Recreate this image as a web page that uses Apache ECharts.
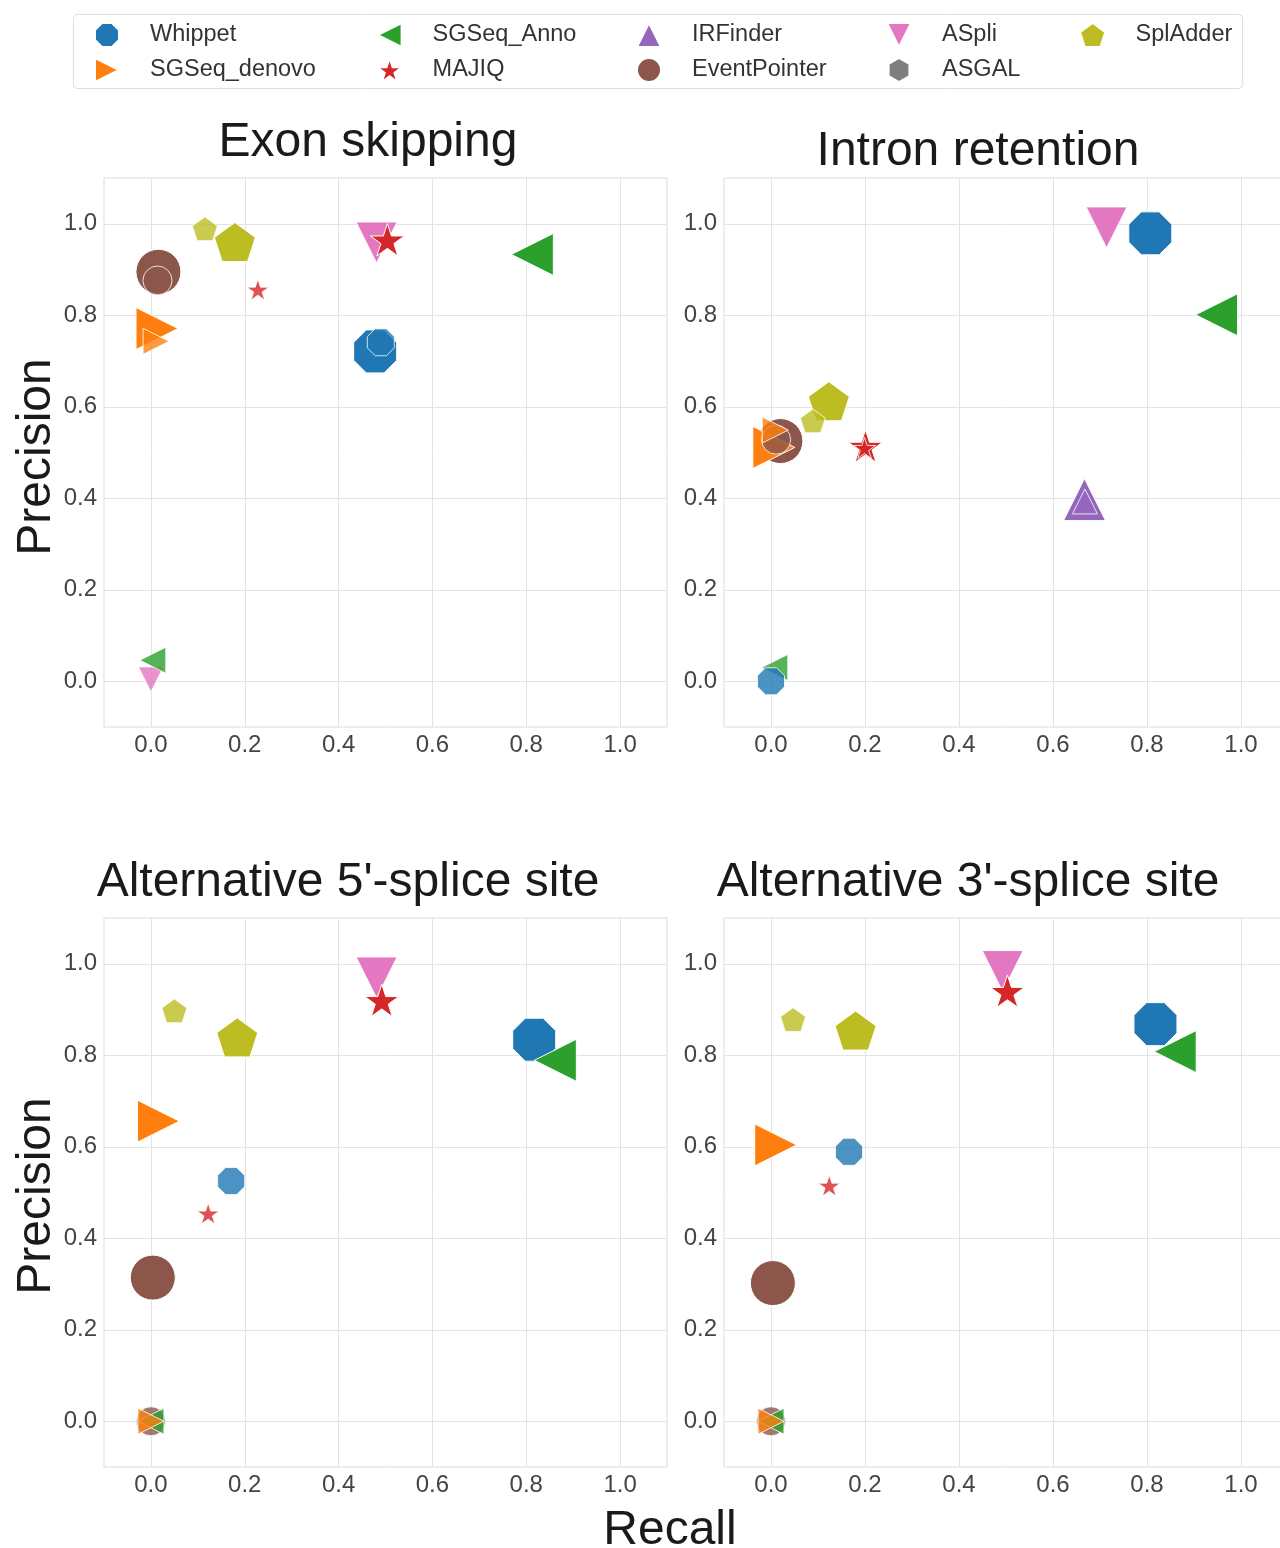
<!DOCTYPE html>
<html><head><meta charset="utf-8">
<script src="https://cdn.jsdelivr.net/npm/echarts@6/dist/echarts.min.js"></script>
<style>html,body{margin:0;padding:0;background:#fff}#c{width:1280px;height:1548px}</style>
</head><body><div id="c"></div>
<script>
// ---------- data ----------
const methods = ['Whippet','SGSeq_denovo','SGSeq_Anno','MAJIQ','IRFinder','EventPointer','ASpli','ASGAL','SplAdder'];
const panelTitles = ['Exon skipping','Intron retention',"Alternative 5'-splice site","Alternative 3'-splice site"];
const xAxisName = 'Recall';
const yAxisName = 'Precision';

// Exon skipping
const esRecallLarge = [0.478, 0.013, 0.813, 0.504, null, 0.016, 0.481, null, 0.179];
const esPrecLarge   = [0.721, 0.771, 0.933, 0.965, null, 0.895, 0.959, null, 0.960];
const esRecallSmall = [0.490, 0.011, 0.004, 0.228, null, 0.014, 0.000, null, 0.115];
const esPrecSmall   = [0.741, 0.743, 0.046, 0.856, null, 0.876, 0.004, null, 0.989];
// Intron retention
const irRecallLarge = [0.807, 0.006, 0.948, 0.201, 0.667, 0.020, 0.714, null, 0.123];
const irPrecLarge   = [0.979, 0.511, 0.801, 0.514, 0.397, 0.525, 0.992, null, 0.612];
const irRecallSmall = [0.000, 0.009, 0.008, 0.199, 0.668, 0.011, null, null, 0.089];
const irPrecSmall   = [0.000, 0.549, 0.030, 0.510, 0.393, 0.528, null, null, 0.569];
// Alternative 5'
const a5RecallLarge = [0.817, 0.016, 0.862, 0.492, null, 0.004, 0.481, null, 0.184];
const a5PrecLarge   = [0.834, 0.656, 0.789, 0.920, null, 0.314, 0.970, null, 0.839];
const a5RecallSmall = [0.171, 0.000, 0.000, 0.122, null, 0.000, null, null, 0.050];
const a5PrecSmall   = [0.525, 0.000, 0.000, 0.454, null, 0.000, null, null, 0.897];
// Alternative 3'
const a3RecallLarge = [0.818, 0.010, 0.860, 0.503, null, 0.004, 0.493, null, 0.180];
const a3PrecLarge   = [0.868, 0.604, 0.808, 0.940, null, 0.302, 0.984, null, 0.854];
const a3RecallSmall = [0.166, 0.000, 0.000, 0.124, null, 0.000, null, null, 0.047];
const a3PrecSmall   = [0.589, 0.000, 0.000, 0.515, null, 0.000, null, null, 0.878];

// ---------- style ----------
const colors = ['#1f77b4','#ff7f0e','#2ca02c','#d62728','#9467bd','#8c564b','#e377c2','#7f7f7f','#bcbd22'];
const FONT = "'Liberation Sans', Arial, sans-serif";
const octagon = 'path://M0.924,0.383 L0.383,0.924 L-0.383,0.924 L-0.924,0.383 L-0.924,-0.383 L-0.383,-0.924 L0.383,-0.924 L0.924,-0.383 Z';
const triRight = 'path://M1,0 L-1,1 L-1,-1 Z';
const triLeft = 'path://M-1,0 L1,-1 L1,1 Z';
const triUp = 'path://M0,-1 L1,1 L-1,1 Z';
const triDown = 'path://M0,1 L-1,-1 L1,-1 Z';
const star = 'path://M0,-1 L0.2245,-0.309 L0.951,-0.309 L0.3633,0.118 L0.588,0.809 L0,0.382 L-0.588,0.809 L-0.3633,0.118 L-0.951,-0.309 L-0.2245,-0.309 Z';
const circle = 'path://M0,-1 A1,1 0 1 1 0,1 A1,1 0 1 1 0,-1 Z';
const hexagon = 'path://M0,-1 L0.866,-0.5 L0.866,0.5 L0,1 L-0.866,0.5 L-0.866,-0.5 Z';
const pentagon = 'path://M0,-1 L0.951,-0.309 L0.588,0.809 L-0.588,0.809 L-0.951,-0.309 Z';
const symbols = [octagon, triRight, triLeft, star, triUp, circle, triDown, hexagon, pentagon];
const largeSize = [43, 42, 42, 34, 42, 45, 41, 42, 41];
const smallSize = [27, 26, 26, 22, 25, 29, 25, 26, 25];
const largeOrder = [6, 7, 4, 5, 1, 0, 2, 3, 8];
const smallOrder = [6, 5, 2, 0, 1, 3, 4, 8, 7];

const panels = [
  {lr: esRecallLarge, lp: esPrecLarge, sr: esRecallSmall, sp: esPrecSmall},
  {lr: irRecallLarge, lp: irPrecLarge, sr: irRecallSmall, sp: irPrecSmall},
  {lr: a5RecallLarge, lp: a5PrecLarge, sr: a5RecallSmall, sp: a5PrecSmall},
  {lr: a3RecallLarge, lp: a3PrecLarge, sr: a3RecallSmall, sp: a3PrecSmall}
];
const gridPos = [
  {left: 104, top: 178, width: 563, height: 549},
  {left: 724, top: 178, width: 564, height: 549},
  {left: 104, top: 918, width: 563, height: 549},
  {left: 724, top: 918, width: 564, height: 549}
];
const titlePos = [[368, 143], [978, 152], [348, 883], [968, 883]];

const gridColor = '#e3e3e3';
const fmt = v => { const k = Math.round(v * 10); return (k % 2 === 0) ? (k / 10).toFixed(1) : ''; };
function axis(i, isX) {
  return {
    gridIndex: i, type: 'value', min: -0.1, max: 1.1, interval: 0.1,
    axisLine: {show: false}, axisTick: {show: false},
    splitLine: {show: true, showMinLine: true, showMaxLine: true, lineStyle: {color: ['transparent', gridColor], width: 1}},
    axisLabel: {formatter: fmt, fontSize: 24, color: '#444', fontFamily: FONT, margin: isX ? 6 : 7, showMinLabel: true, showMaxLabel: true}
  };
}

const series = [];
function mk(m, gi, x, y, size, op) {
  return {
    type: 'scatter', name: methods[m], xAxisIndex: gi, yAxisIndex: gi,
    data: (x == null || y == null) ? [] : [[x, y]],
    symbol: symbols[m], symbolSize: size, symbolKeepAspect: true,
    itemStyle: {color: colors[m], opacity: op, borderColor: '#ffffff', borderWidth: 1},
    emphasis: {disabled: true}, silent: true, animation: false
  };
}
panels.forEach((p, gi) => {
  largeOrder.forEach(m => series.push(mk(m, gi, p.lr[m], p.lp[m], largeSize[m], 1)));
  smallOrder.forEach(m => series.push(mk(m, gi, p.sr[m], p.sp[m], smallSize[m], 0.8)));
});

const legendCols = [['Whippet','SGSeq_denovo'],['SGSeq_Anno','MAJIQ'],['IRFinder','EventPointer'],['ASpli','ASGAL'],['SplAdder']];
const legendLeft = [94, 376, 636, 886, 1079];
const legend = legendCols.map((names, i) => ({
  data: names, orient: 'vertical', left: legendLeft[i], top: 22, padding: 0,
  itemWidth: 76, itemHeight: 24, itemGap: 9, symbolKeepAspect: true, selectedMode: false,
  textStyle: {fontSize: 23.5, color: '#333', fontFamily: FONT}
}));

const graphic = [
  {type: 'rect', shape: {x: 73.5, y: 14.5, width: 1169, height: 74, r: 4}, style: {fill: 'none', stroke: '#dddddd', lineWidth: 1}, silent: true}
];
panelTitles.forEach((t, i) => graphic.push({
  type: 'text', x: titlePos[i][0], y: titlePos[i][1], silent: true,
  style: {text: t, x: 0, y: 0, fontSize: 48, fontFamily: FONT, fill: '#1a1a1a', align: 'center', verticalAlign: 'middle'}
}));
graphic.push({type: 'text', x: 670, y: 1531, silent: true,
  style: {text: xAxisName, x: 0, y: 0, fontSize: 48, fontFamily: FONT, fill: '#1a1a1a', align: 'center', verticalAlign: 'middle'}});
[457, 1196].forEach(yy => graphic.push({type: 'text', x: 37, y: yy, rotation: Math.PI / 2, silent: true,
  style: {text: yAxisName, x: 0, y: 0, fontSize: 48, fontFamily: FONT, fill: '#1a1a1a', align: 'center', verticalAlign: 'middle'}}));

const option = {
  animation: false,
  backgroundColor: '#ffffff',
  grid: gridPos.map(g => Object.assign({show: true, borderColor: '#dcdcdc', borderWidth: 1, backgroundColor: 'transparent', containLabel: false, outerBoundsMode: 'none'}, g)),
  xAxis: gridPos.map((g, i) => axis(i, true)),
  yAxis: gridPos.map((g, i) => axis(i, false)),
  legend: legend,
  graphic: graphic,
  series: series
};
const chart = echarts.init(document.getElementById('c'), null, {renderer: 'canvas', width: 1280, height: 1548});
chart.setOption(option);
</script>
</body></html>
